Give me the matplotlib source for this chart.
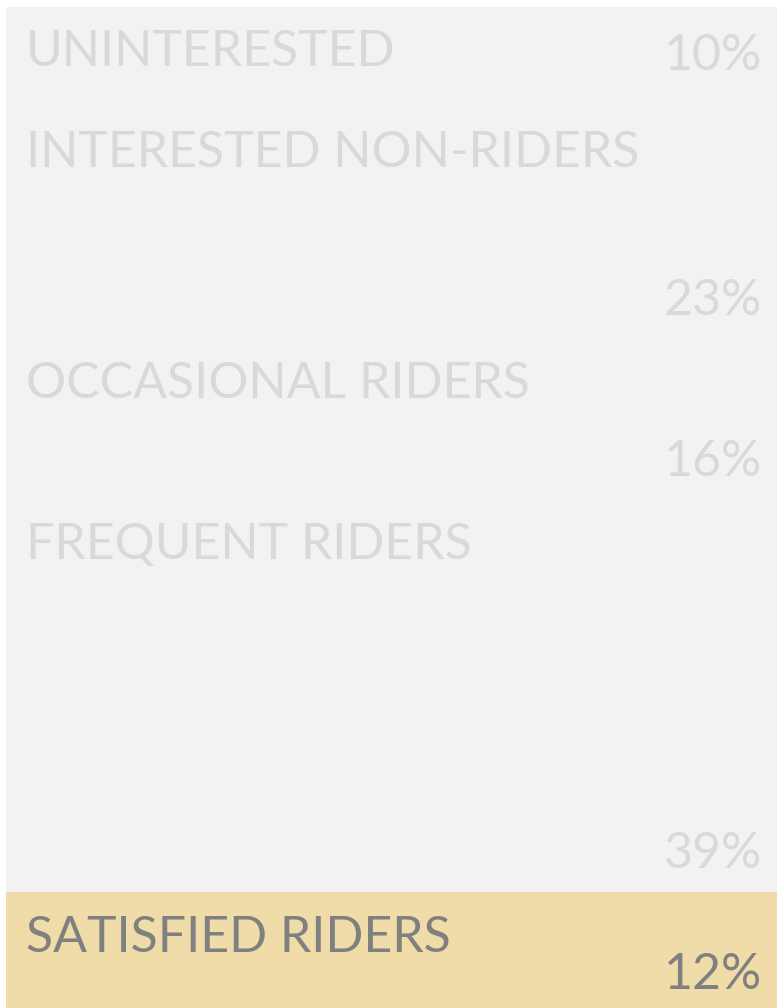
import numpy as np
import matplotlib.pyplot as plt

# rider segments, top to bottom
segments = ['UNINTERESTED', 'INTERESTED NON-RIDERS', 'OCCASIONAL RIDERS',
            'FREQUENT RIDERS', 'SATISFIED RIDERS']
shares = [10, 23, 16, 39, 12]
highlight = 'SATISFIED RIDERS'

plt.rcParams['font.family'] = ['Lato', 'DejaVu Sans']

fig = plt.figure(figsize=(7.77, 10.08), dpi=100)
# axes placed in pixels: left 6, top 7, bottom runs just past the image
ax = fig.add_axes([6 / 777, -5 / 1008, 771 / 777, 1006 / 1008])

bottoms = np.concatenate([[0], np.cumsum(shares)[:-1]])
colors = ['#f0dca8' if s == highlight else '#f2f2f2' for s in segments]
ax.bar(0, shares, bottom=bottoms, width=1, color=colors, linewidth=0, align='edge')

ax.set_xlim(0, 1)
ax.set_ylim(sum(shares), 0)
ax.axis('off')

fs = 36
px = 1006 / 100  # pixels per percent
for name, val, b in zip(segments, shares, bottoms):
    tc = '#808080' if name == highlight else '#d9d9d9'
    ax.annotate(name, (0, b), xytext=(14.5, -16), textcoords='offset points',
                ha='left', va='top', fontsize=fs, color=tc)
    # percent sits at bottom right; short segments put it on the label line
    h = val * px
    base = 63 if h < 110 else h - 24
    ax.annotate(f'{val}%', (1, b), xytext=(-11, -base * 0.72),
                textcoords='offset points', ha='right', va='baseline',
                fontsize=fs, color=tc)

fig.savefig('out.png', dpi=100)
